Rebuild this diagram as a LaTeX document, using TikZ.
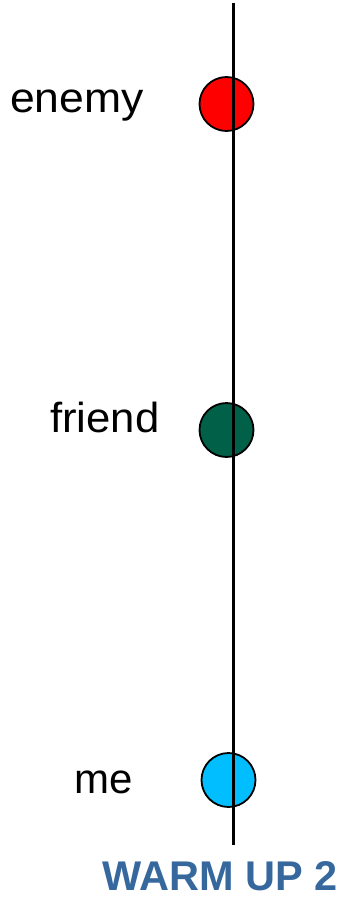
\documentclass[tikz,border=0pt]{standalone}
\usepackage{fontspec}
\setmainfont{Liberation Sans}
\definecolor{enemyred}{RGB}{255,0,0}
\definecolor{friendgreen}{RGB}{0,96,72}
\definecolor{meblue}{RGB}{0,190,255}
\definecolor{titleblue}{RGB}{54,104,158}
\tikzset{
  dot/.style={circle, draw=black, line width=1.8pt, minimum size=54pt, inner sep=0pt},
  lbl/.style={anchor=base west, inner sep=0pt, font=\fontsize{42}{46}\selectfont},
  axis/.style={line width=2.2pt, draw=black}
}
\begin{document}
\begin{tikzpicture}[x=1pt,y=-1pt]
\useasboundingbox (0,0) rectangle (350,899);
\node[dot, fill=enemyred] (enemy) at (226.5,104) {};
\node[dot, fill=friendgreen] (friend) at (226.5,430) {};
\node[dot, fill=meblue] (me) at (228.5,780) {};
\coordinate (top) at (233.5,3);
\coordinate (bot) at (233.5,845);
\draw[axis] (top) -- (bot);
\node[lbl] (tenemy) at (10,112) {\scalebox{1.06}[1]{enemy}};
\node[lbl] (tfriend) at (50,432.5) {\scalebox{1.04}[1]{friend}};
\node[lbl] (tme) at (74,793) {me};
\node[anchor=base west, inner sep=0pt, text depth=0pt, text=titleblue, font=\fontsize{41.5}{44}\selectfont\bfseries] (title) at (102,890.5) {WARM UP 2};
\end{tikzpicture}
\end{document}
